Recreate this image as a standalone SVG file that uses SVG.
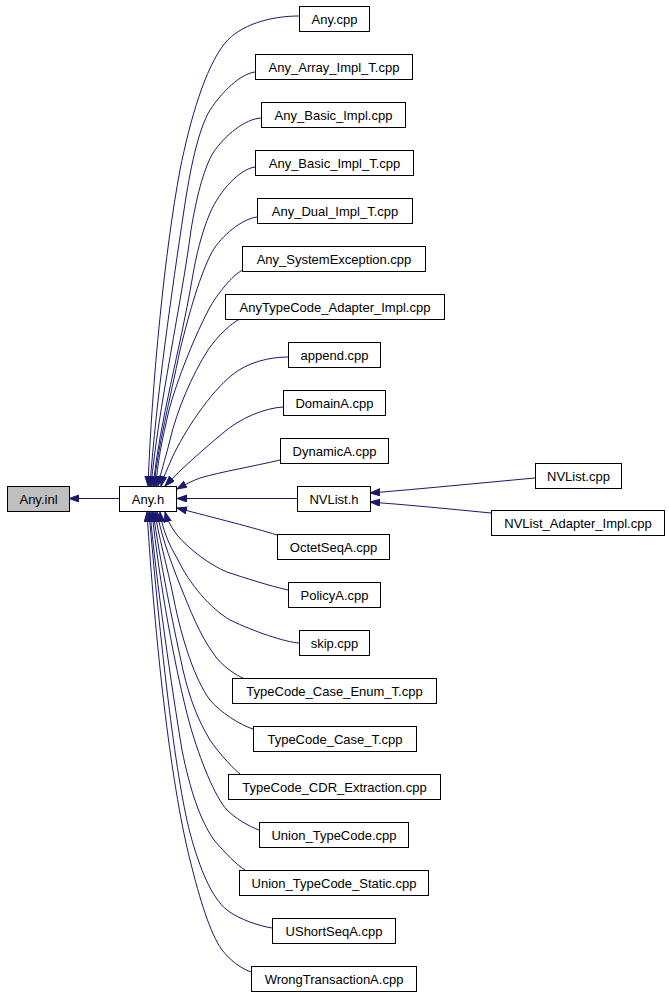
<svg xmlns="http://www.w3.org/2000/svg" width="669" height="995" viewBox="0 0 669 995">
<style>
.n rect{fill:#ffffff;stroke:#000000;stroke-width:1}
.n.g rect{fill:#bfbfbf}
.n text{font-family:"Liberation Sans",Arial,sans-serif;font-size:13px;fill:#000000;text-anchor:middle}
#edges path{fill:none;stroke:#191970;stroke-width:1;marker-end:url(#ah)}
</style>
<defs>
<marker id="ah" markerUnits="userSpaceOnUse" markerWidth="11" markerHeight="8" refX="10" refY="3.5" orient="auto">
<path d="M0,0 L10,3.5 L0,7 z" fill="#191970" stroke="#191970" stroke-width="1"/>
</marker>
</defs>
<rect width="669" height="995" fill="#ffffff"/>
<g id="edges">
<path d="M119,498.5 L69,498.5"/>
<path d="M297,498.5 L177,498.5"/>
<path d="M535,478 C480,483 420,489 370,493"/>
<path d="M491,513 C450,509 410,505 370,502"/>
<path d="M299,16 C270,16 240,25 225,43 C205,68 190,120 180,170 C165,250 152,380 148,486"/>
<path d="M255,72 C240,74 222,92 210,110 C198,130 190,170 184,210 C172,290 156,400 150,486"/>
<path d="M261,118 C245,119 225,135 213,153 C203,170 196,200 191,230 C182,300 158,410 151,486"/>
<path d="M255,167 C240,169 220,190 210,213 C202,232 196,255 192,280 C180,350 160,420 153,486"/>
<path d="M257,217 C242,219 222,235 212,252 C200,275 190,310 180,350 C170,400 158,445 154,486"/>
<path d="M243,270 C235,273 220,290 210,307 C195,335 177,380 169,410 C162,440 157,465 156,486"/>
<path d="M240,319 C233,322 218,335 208,350 C192,375 177,410 170,440 C165,460 160,475 158,486"/>
<path d="M288,357 C270,357 248,362 232,375 C210,393 185,430 172,458 C167,470 163,478 161,486"/>
<path d="M283,407 C265,408 240,418 223,433 C205,448 182,468 165,486"/>
<path d="M280,460 C255,466 220,472 200,478 C192,481 186,484 177,489"/>
<path d="M277,535 C255,528 215,518 177,508"/>
<path d="M288,590 C270,586 245,578 227,572 C210,565 190,550 177,535 C171,527 167,519 165,512"/>
<path d="M299,643 C285,642 255,632 230,620 C210,608 190,585 177,558 C169,545 162,528 160,512"/>
<path d="M243,678 C238,676 222,667 213,653 C200,635 190,610 180,585 C168,555 160,530 157,512"/>
<path d="M253,729 C240,725 220,712 210,700 C195,680 182,640 174,600 C167,565 158,535 155,512"/>
<path d="M240,774 C235,770 220,755 210,740 C198,720 190,700 183,670 C172,620 160,560 153,512"/>
<path d="M259,830 C248,826 235,818 227,810 C215,797 200,760 190,725 C175,670 159,580 152,512"/>
<path d="M245,870 C238,866 225,853 214,840 C200,820 190,790 182,750 C172,690 156,580 150,512"/>
<path d="M272,928 C260,926 240,920 227,910 C212,898 200,870 190,833 C175,775 160,640 149,512"/>
<path d="M251,972 C240,968 230,960 222,950 C210,933 200,900 190,860 C170,780 155,640 147,512"/>
</g>
<g id="node-any-inl" class="n g"><rect x="7.5" y="486.5" width="62" height="25"/><text x="38.5" y="503.5">Any.inl</text></g>
<g id="node-any-h" class="n"><rect x="119.5" y="486.5" width="57" height="25"/><text x="148" y="503.5">Any.h</text></g>
<g id="node-nvlist-h" class="n"><rect x="297.5" y="486.5" width="73" height="25"/><text x="334" y="503.5">NVList.h</text></g>
<g id="node-nvlist-cpp" class="n"><rect x="535.5" y="463.5" width="86" height="25"/><text x="578.5" y="480.5">NVList.cpp</text></g>
<g id="node-nvlist-adapter" class="n"><rect x="491.5" y="510.5" width="173" height="25"/><text x="578" y="527.5">NVList_Adapter_Impl.cpp</text></g>
<g id="node-any-cpp" class="n"><rect x="299.5" y="6.5" width="70" height="25"/><text x="334.5" y="23.5">Any.cpp</text></g>
<g id="node-any-array" class="n"><rect x="255.5" y="54.5" width="157" height="25"/><text x="334" y="71.5">Any_Array_Impl_T.cpp</text></g>
<g id="node-any-basic" class="n"><rect x="261.5" y="102.5" width="144" height="25"/><text x="333.5" y="119.5">Any_Basic_Impl.cpp</text></g>
<g id="node-any-basic-t" class="n"><rect x="255.5" y="150.5" width="158" height="25"/><text x="334.5" y="167.5">Any_Basic_Impl_T.cpp</text></g>
<g id="node-any-dual" class="n"><rect x="257.5" y="198.5" width="155" height="25"/><text x="335" y="215.5">Any_Dual_Impl_T.cpp</text></g>
<g id="node-any-sysex" class="n"><rect x="242.5" y="246.5" width="183" height="25"/><text x="334" y="263.5">Any_SystemException.cpp</text></g>
<g id="node-anytc-adapter" class="n"><rect x="225.5" y="294.5" width="219" height="25"/><text x="335" y="311.5">AnyTypeCode_Adapter_Impl.cpp</text></g>
<g id="node-append" class="n"><rect x="288.5" y="342.5" width="92" height="25"/><text x="334.5" y="359.5">append.cpp</text></g>
<g id="node-domaina" class="n"><rect x="283.5" y="390.5" width="102" height="25"/><text x="334.5" y="407.5">DomainA.cpp</text></g>
<g id="node-dynamica" class="n"><rect x="280.5" y="438.5" width="108" height="25"/><text x="334.5" y="455.5">DynamicA.cpp</text></g>
<g id="node-octetseqa" class="n"><rect x="277.5" y="534.5" width="112" height="25"/><text x="333.5" y="551.5">OctetSeqA.cpp</text></g>
<g id="node-policya" class="n"><rect x="288.5" y="582.5" width="92" height="25"/><text x="334.5" y="599.5">PolicyA.cpp</text></g>
<g id="node-skip" class="n"><rect x="299.5" y="630.5" width="70" height="25"/><text x="334.5" y="647.5">skip.cpp</text></g>
<g id="node-tc-case-enum" class="n"><rect x="232.5" y="678.5" width="204" height="25"/><text x="334.5" y="695.5">TypeCode_Case_Enum_T.cpp</text></g>
<g id="node-tc-case-t" class="n"><rect x="253.5" y="726.5" width="163" height="25"/><text x="335" y="743.5">TypeCode_Case_T.cpp</text></g>
<g id="node-tc-cdr" class="n"><rect x="228.5" y="774.5" width="212" height="25"/><text x="334.5" y="791.5">TypeCode_CDR_Extraction.cpp</text></g>
<g id="node-union-tc" class="n"><rect x="259.5" y="822.5" width="149" height="25"/><text x="334" y="839.5">Union_TypeCode.cpp</text></g>
<g id="node-union-tc-static" class="n"><rect x="239.5" y="870.5" width="189" height="25"/><text x="334" y="887.5">Union_TypeCode_Static.cpp</text></g>
<g id="node-ushortseqa" class="n"><rect x="272.5" y="918.5" width="123" height="25"/><text x="334" y="935.5">UShortSeqA.cpp</text></g>
<g id="node-wrongtxa" class="n"><rect x="251.5" y="966.5" width="165" height="25"/><text x="334" y="983.5">WrongTransactionA.cpp</text></g>
</svg>
